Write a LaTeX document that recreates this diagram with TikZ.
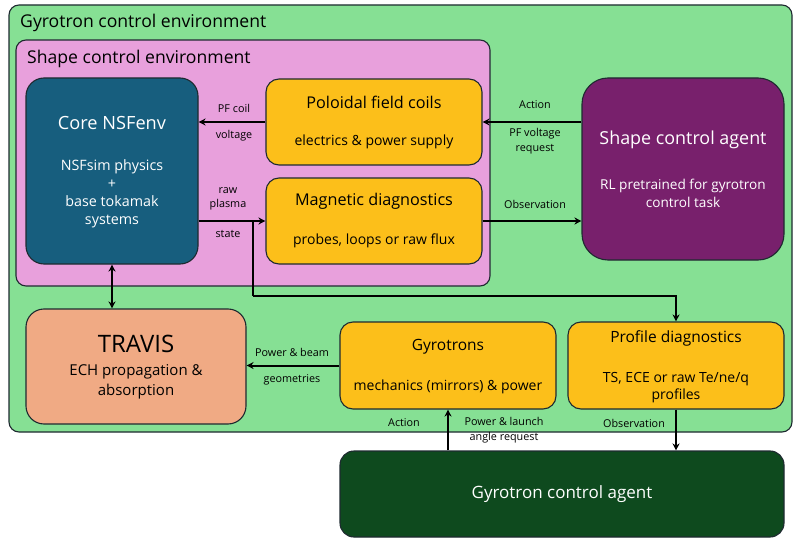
\documentclass[tikz,border=0pt]{standalone}
\usepackage{fontspec}
\setmainfont{Open Sans}
\usetikzlibrary{arrows.meta,calc}
\definecolor{gbg}{HTML}{86E094}
\definecolor{pbg}{HTML}{E8A0DC}
\definecolor{teal}{HTML}{175E7E}
\definecolor{ylw}{HTML}{FCBF1A}
\definecolor{purp}{HTML}{78206C}
\definecolor{salm}{HTML}{F0AA84}
\definecolor{dgrn}{HTML}{0E4A1E}
\definecolor{edge}{HTML}{1E2A30}
\begin{document}
\begin{tikzpicture}[x=1pt,y=-1pt,
  box/.style={draw=edge,line width=1.1pt,inner sep=0pt},
  arr/.style={line width=2pt,-{Stealth[length=7pt,width=7pt]}},
  darr/.style={line width=2pt,{Stealth[length=7pt,width=7pt]}-{Stealth[length=7pt,width=7pt]}},
  ln/.style={line width=2pt},
  lbl/.style={font=\fontsize{10.8}{14}\selectfont,align=center,inner sep=0pt},
  txt/.style={inner sep=0pt,align=center}]
\useasboundingbox (0,0) rectangle (800,548);
\fill[white] (0,0) rectangle (800,548);
% containers
\node[box,fill=gbg,rounded corners=10pt,minimum width=783pt,minimum height=427pt] (genv) at (400.5,218.5) {};
\node[box,fill=pbg,rounded corners=10pt,minimum width=474pt,minimum height=246pt] (senv) at (253,163) {};
\node[txt,anchor=west,font=\fontsize{17.6}{19}\selectfont] (gtitle) at (20,23) {Gyrotron control environment};
\node[txt,anchor=west,font=\fontsize{17.6}{19}\selectfont] (stitle) at (27,59) {Shape control environment};
% boxes
\node[box,fill=teal,rounded corners=18pt,minimum width=172pt,minimum height=186pt] (core) at (112,171) {};
\node[box,fill=ylw,rounded corners=13pt,minimum width=216pt,minimum height=86pt] (pol) at (374,122) {};
\node[box,fill=ylw,rounded corners=13pt,minimum width=216pt,minimum height=86pt] (mag) at (374,221) {};
\node[box,fill=purp,rounded corners=26pt,minimum width=202pt,minimum height=182pt] (agent) at (683,169) {};
\node[box,fill=salm,rounded corners=18pt,minimum width=220pt,minimum height=115pt] (travis) at (136,366.5) {};
\node[box,fill=ylw,rounded corners=13pt,minimum width=216pt,minimum height=87pt] (gyro) at (448,365.5) {};
\node[box,fill=ylw,rounded corners=13pt,minimum width=216pt,minimum height=87pt] (prof) at (676,365.5) {};
\node[box,fill=dgrn,rounded corners=14pt,minimum width=444pt,minimum height=86pt] (gca) at (562,494) {};
% texts
\node[txt,white,font=\fontsize{18.2}{20}\selectfont] (coret) at (112,123) {Core NSFenv};
\node[txt,white,font=\fontsize{14.3}{18}\selectfont] (cores) at (112,194) {NSFsim physics\\+\\base tokamak\\systems};
\node[txt,font=\fontsize{16.2}{18}\selectfont] (polt) at (374,102) {Poloidal field coils};
\node[txt,font=\fontsize{14}{16}\selectfont] (pols) at (374,142) {electrics \& power supply};
\node[txt,font=\fontsize{16.2}{18}\selectfont] (magt) at (374,201) {Magnetic diagnostics};
\node[txt,font=\fontsize{14}{16}\selectfont] (mags) at (374,241) {probes, loops or raw flux};
\node[txt,white,font=\fontsize{17.9}{20}\selectfont] (agentt) at (683,140) {Shape control agent};
\node[txt,white,font=\fontsize{13.6}{18}\selectfont] (agents) at (683,193) {RL pretrained for gyrotron\\control task};
\node[txt,font=\fontsize{24}{26}\selectfont] (travt) at (136,344) {TRAVIS};
\node[txt,font=\fontsize{15}{20}\selectfont] (travs) at (136,382) {ECH propagation \&\\absorption};
\node[txt,font=\fontsize{15.5}{17}\selectfont] (gyrot) at (448,347) {Gyrotrons};
\node[txt,font=\fontsize{14}{16}\selectfont] (gyros) at (448,387) {mechanics (mirrors) \& power};
\node[txt,font=\fontsize{15.5}{17}\selectfont] (proft) at (676,338) {Profile diagnostics};
\node[txt,font=\fontsize{14}{17}\selectfont] (profs) at (676,387.5) {TS, ECE or raw Te/ne/q\\profiles};
\node[txt,white,font=\fontsize{17}{20}\selectfont] (gcat) at (562,494) {Gyrotron control agent};
% connectors
\draw[arr] (pol.west) -- (core.east|-pol.west);
\draw[arr] (core.east|-mag.west) -- (mag.west);
\coordinate (br) at (253,221);
\coordinate (bend) at (253,296);
\draw[ln] (br) -- (bend);
\draw[arr] (bend) -| (prof.north);
\draw[arr] (agent.west|-pol.east) -- (pol.east);
\draw[arr] (mag.east) -- (agent.west|-mag.east);
\draw[darr] (core.south) -- (travis.north-|core.south);
\draw[arr] (gyro.west) -- (travis.east|-gyro.west);
\draw[arr] (gca.north-|gyro.south) -- (gyro.south);
\draw[arr] (prof.south) -- (prof.south|-gca.north);
% labels
\node[lbl] (l1) at (234,108) {PF coil};
\node[lbl] (l2) at (234,136) {voltage};
\node[lbl] (l3) at (228,198.5) {raw\\plasma};
\node[lbl] (l4) at (228,234) {state};
\node[lbl] (l5) at (535,105) {Action};
\node[lbl,font=\fontsize{10.8}{15}\selectfont] (l6) at (535,141.5) {PF voltage\\request};
\node[lbl] (l7) at (535,204) {Observation};
\node[lbl] (l8) at (292,352) {Power \& beam};
\node[lbl] (l9) at (292,380) {geometries};
\node[lbl] (l10) at (404,423) {Action};
\node[lbl,font=\fontsize{10.8}{15}\selectfont] (l11) at (504,430.5) {Power \& launch\\angle request};
\node[lbl] (l12) at (634,423) {Observation};
\end{tikzpicture}
\end{document}
